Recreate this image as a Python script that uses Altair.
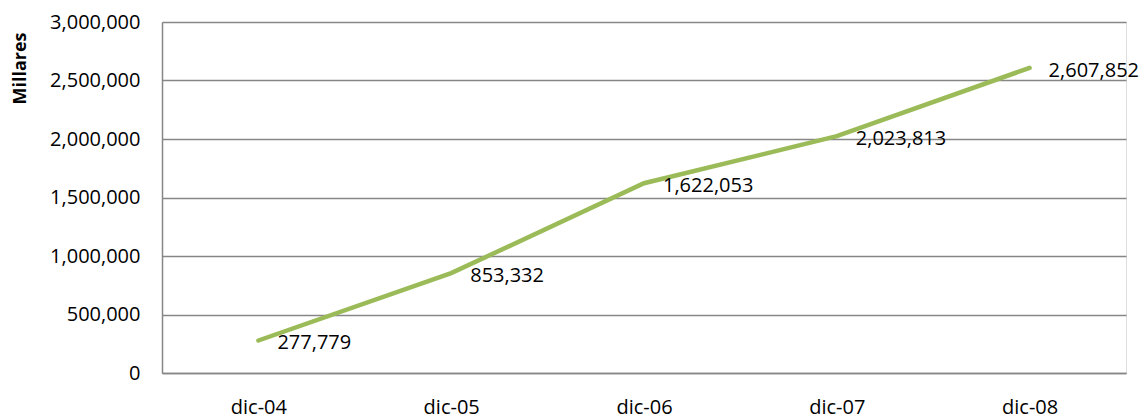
import altair as alt
import pandas as pd

periods = ["dic-04", "dic-05", "dic-06", "dic-07", "dic-08"]
values = [277779, 853332, 1622053, 2023813, 2607852]

df = pd.DataFrame({"periodo": periods, "valor": values})

FONT = "Open Sans"
GRID = "#868686"

x = alt.X("periodo:N", sort=periods,
          scale=alt.Scale(type="point", padding=0.5),
          axis=alt.Axis(title=None, labelAngle=0, labelFont=FONT, labelFontSize=20,
                        labelColor="black", labelPadding=24, ticks=False,
                        domainColor=GRID, domainWidth=1.5, grid=False))
y = alt.Y("valor:Q",
          scale=alt.Scale(domain=[0, 3000000], nice=False),
          axis=alt.Axis(title="Millares", values=[0, 500000, 1000000, 1500000, 2000000, 2500000, 3000000],
                        format=",.0f", labelFont=FONT, labelFontSize=20, labelColor="black",
                        labelPadding=22, ticks=False, domainColor=GRID, domainWidth=1.5,
                        gridColor=GRID, gridWidth=1.5, gridOpacity=1,
                        titleFont=FONT, titleFontSize=18, titleFontWeight="bold", titleColor="black",
                        titleAngle=-90, titleAlign="center", titleBaseline="middle",
                        titleX=-142, titleY=46))

line = alt.Chart(df).mark_line(color="#9BBB59", strokeWidth=4.5, strokeCap="round").encode(x=x, y=y)
labels = alt.Chart(df).mark_text(align="left", baseline="middle", dx=19, dy=3,
                                 font=FONT, fontSize=20, color="black").encode(
    x=alt.X("periodo:N", sort=periods), y="valor:Q", text=alt.Text("valor:Q", format=","))

chart = (line + labels).properties(
    width=964, height=351,
    autosize=alt.AutoSizeParams(type="none"),
    padding={"left": 162, "top": 22, "right": 19, "bottom": 46},
).configure_view(stroke=None).configure(background="white")

chart.save("out.html", embed_options={"renderer": "svg", "actions": False})
